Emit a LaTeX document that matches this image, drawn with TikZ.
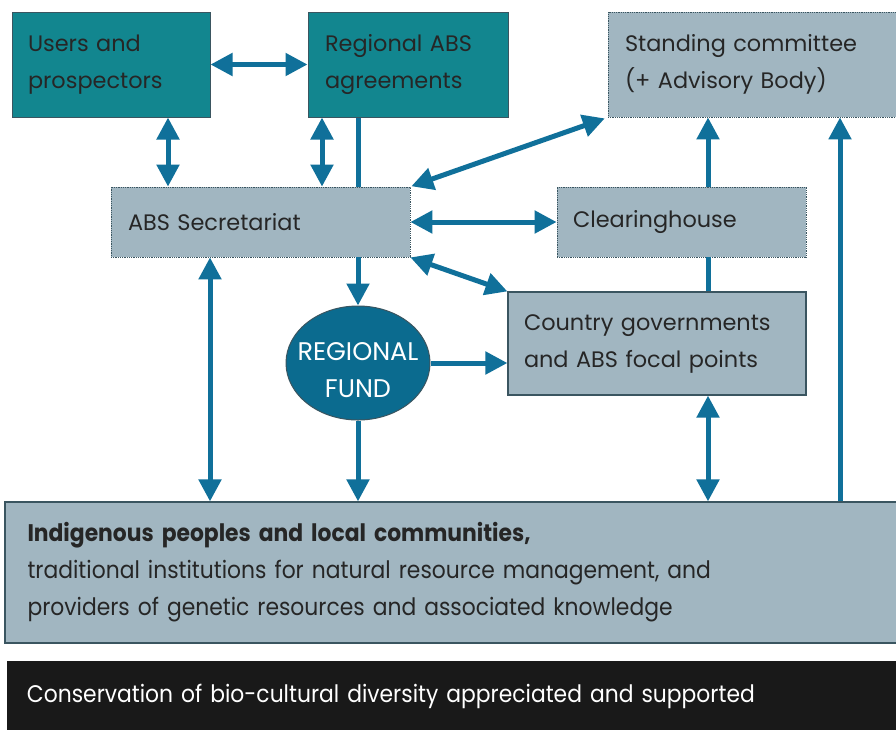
\documentclass[tikz,border=0pt]{standalone}
\usepackage{fontspec}
\setmainfont{Poppins}
\newfontfamily\condfont[FakeStretch=0.91]{Poppins}
\usetikzlibrary{arrows.meta,shapes.geometric,calc}
\definecolor{tealbox}{HTML}{12868F}
\definecolor{greybox}{HTML}{A1B6C1}
\definecolor{arrowcol}{HTML}{10709A}
\definecolor{fundcol}{HTML}{0B6B8F}
\definecolor{edgecol}{HTML}{3A5560}
\newcommand{\fundline}[1]{\makebox[0pt]{\raisebox{-7pt}[\height][\depth]{#1}}}
\tikzset{
  box/.style={rectangle, inner sep=0pt, align=left, font=\fontsize{22.4}{37}\selectfont, text=black!85},
  tealnode/.style={box, fill=tealbox, draw=edgecol, line width=1pt},
  greydot/.style={box, fill=greybox, draw=edgecol, line width=0.8pt, densely dotted},
  greysolid/.style={box, fill=greybox, draw=edgecol, line width=1.2pt},
  conn/.style={draw=arrowcol, line width=5pt},
  twoway/.style={conn, {Triangle[length=22pt,width=22pt]}-{Triangle[length=22pt,width=22pt]}},
  oneway/.style={conn, -{Triangle[length=22pt,width=22pt]}},
}
\begin{document}
\begin{tikzpicture}[x=1pt,y=-1pt]
\useasboundingbox (0,0) rectangle (896,729);
\fill[white] (0,0) rectangle (896,729);

\node[tealnode, minimum width=198, minimum height=105, text width=166] (users) at (111,64.5) {Users and\\prospectors};
\node[tealnode, minimum width=200, minimum height=105, text width=166] (regional) at (408,64.5) {Regional ABS\\agreements};
\node[greydot, minimum width=292, minimum height=105, text width=258] (stand) at (754,64.5) {Standing committee\\(+ Advisory Body)};
\node[greydot, minimum width=299, minimum height=70, text width=265] (sec) at (260.5,222) {ABS Secretariat};
\node[greydot, minimum width=249, minimum height=70, text width=217] (clear) at (681.5,222) {Clearinghouse};
\node[greysolid, minimum width=298, minimum height=103, text width=266] (country) at (657,343.5) {Country governments\\and ABS focal points};
\node[ellipse, fill=fundcol, draw=edgecol, line width=1pt, minimum width=144, minimum height=114, inner sep=0pt, align=center, text=white, font=\fontsize{25.5}{37}\selectfont] (fund) at (358,363) {\fundline{REGIONAL}\\\fundline{FUND}};
\node[greysolid, minimum width=895, minimum height=141, text width=850, font=\condfont\fontsize{24}{37}\selectfont] (ind) at (452.5,572.5) {{\bfseries Indigenous peoples and local communities,}\\traditional institutions for natural resource management, and\\providers of genetic resources and associated knowledge};
\node[rectangle, fill=black!90, minimum width=890, minimum height=70, inner sep=0pt, text width=850, align=left, text=white, font=\condfont\fontsize{24}{37}\selectfont] (goal) at (452,696) {Conservation of bio-cultural diversity appreciated and supported};

% connectors
\draw[twoway] (users.east) -- (regional.west);
\draw[twoway] (users.south -| 168,0) -- (sec.north -| 168,0);
\draw[twoway] (regional.south -| 322,0) -- (sec.north -| 322,0);
\draw[conn] (regional.south -| 358,0) -- (sec.north -| 358,0);
\draw[oneway] (sec.south -| 358,0) -- (fund.north);
\draw[twoway, shorten <=1pt, shorten >=3pt] (sec.north east) -- (stand.south west);
\draw[twoway] (sec.east |- clear.west) -- (clear.west);
\draw[twoway] (sec.south east) -- (country.north west);
\draw[oneway] (clear.north -| 708,0) -- (stand.south -| 708,0);
\draw[conn] (country.north -| 708,0) -- (clear.south -| 708,0);
\draw[oneway] (fund.east) -- (country.west |- fund.east);
\draw[oneway] (fund.south) -- (ind.north -| fund.south);
\draw[twoway] (sec.south -| 210,0) -- (ind.north -| 210,0);
\draw[twoway] (country.south -| 708,0) -- (ind.north -| 708,0);
\draw[oneway] (ind.north -| 840,0) -- (stand.south -| 840,0);
\end{tikzpicture}
\end{document}
